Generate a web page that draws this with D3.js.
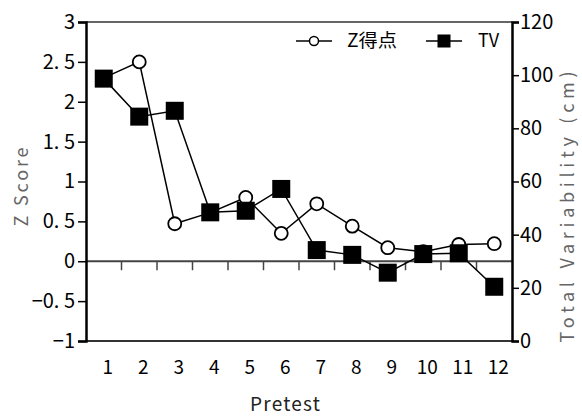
<!DOCTYPE html>
<html>
<head>
<meta charset="utf-8">
<script src="https://cdn.jsdelivr.net/npm/d3@7"></script>
<style>
  body { margin: 0; background: #fff; }
  text { font-family: "Noto Sans CJK JP", "DejaVu Sans", sans-serif; }
</style>
</head>
<body>
<div id="chart"></div>
<script>
// data
const pretests = ['1', '2', '3', '4', '5', '6', '7', '8', '9', '10', '11', '12'];
const zScore = [2.3, 2.5, 0.47, 0.61, 0.8, 0.35, 0.72, 0.44, 0.17, 0.12, 0.21, 0.22];
const tvValues = [98.7, 84.4, 86.6, 48.4, 49, 57.2, 34.2, 32.4, 25.7, 32.7, 33, 20.4];
const zTicks = [-1, -0.5, 0, 0.5, 1, 1.5, 2, 2.5, 3];
const tvTicks = [0, 20, 40, 60, 80, 100, 120];

const W = 582, H = 417;
const plotL = 86, plotR = 512, plotT = 22, plotB = 341;

const svg = d3.select('#chart').append('svg').attr('width', W).attr('height', H);

const x = d3.scaleBand().domain(pretests).range([plotL, plotR]);
const yZ = d3.scaleLinear().domain([-1, 3]).range([plotB, plotT]);
const yTV = d3.scaleLinear().domain([0, 120]).range([plotB, plotT]);
const cx = d => x(d) + x.bandwidth() / 2;

// frame: top and bottom
svg.append('line').attr('x1', plotL).attr('x2', plotR).attr('y1', plotT).attr('y2', plotT)
  .attr('stroke', '#666').attr('stroke-width', 2);
svg.append('line').attr('x1', plotL).attr('x2', plotR).attr('y1', plotB).attr('y2', plotB)
  .attr('stroke', '#333').attr('stroke-width', 2);

// zero line with category ticks
svg.append('line').attr('x1', plotL).attr('x2', plotR).attr('y1', yZ(0)).attr('y2', yZ(0))
  .attr('stroke', '#444').attr('stroke-width', 2);
svg.append('g').selectAll('line').data(pretests.slice(1)).join('line')
  .attr('x1', d => x(d)).attr('x2', d => x(d))
  .attr('y1', yZ(0)).attr('y2', yZ(0) + 9)
  .attr('stroke', '#444').attr('stroke-width', 1.5);

// left axis
const leftAxis = svg.append('g').attr('transform', `translate(${plotL},0)`);
leftAxis.call(d3.axisLeft(yZ).tickValues(d3.range(-1, 3.001, 0.1)).tickSize(4).tickFormat(''));
leftAxis.call(d3.axisLeft(yZ).tickValues(zTicks).tickSize(8).tickPadding(3)
  .tickFormat(d => d3.format('.1~f')(d).replace('-', '\u2212').replace('.', '. ')));
leftAxis.selectAll('path.domain').attr('stroke', '#000').attr('stroke-width', 2.5);
leftAxis.selectAll('line').attr('stroke', '#000').attr('stroke-width', 1.5);
leftAxis.selectAll('text').attr('font-size', 20).attr('fill', '#000')
  .attr('font-family', '"Noto Sans CJK JP", sans-serif');

// right axis
const rightAxis = svg.append('g').attr('transform', `translate(${plotR},0)`);
rightAxis.call(d3.axisRight(yTV).tickValues(d3.range(0, 120.1, 5)).tickSize(4).tickFormat(''));
rightAxis.call(d3.axisRight(yTV).tickValues(tvTicks).tickSize(7).tickPadding(1));
rightAxis.selectAll('path.domain').attr('stroke', '#000').attr('stroke-width', 2.5);
rightAxis.selectAll('line').attr('stroke', '#000').attr('stroke-width', 1.5);
rightAxis.selectAll('text').attr('font-size', 20).attr('fill', '#000')
  .attr('font-family', '"Noto Sans CJK JP", sans-serif');

// category labels
svg.append('g').selectAll('text').data(pretests).join('text')
  .attr('x', d => cx(d) + 4).attr('y', 367).attr('dy', '0.35em')
  .attr('text-anchor', 'middle').attr('font-size', 19).text(d => d);

// axis titles
svg.append('text').attr('x', 285).attr('y', 404).attr('dy', '0.35em')
  .attr('text-anchor', 'middle').attr('font-size', 19).attr('fill', '#222')
  .attr('textLength', 70).attr('lengthAdjust', 'spacing').text('Pretest');
svg.append('text').attr('transform', 'translate(22,187) rotate(-90)').attr('dy', '0.35em')
  .attr('text-anchor', 'middle').attr('font-size', 18).attr('fill', '#666')
  .attr('textLength', 79).attr('lengthAdjust', 'spacing').text('Z Score');
svg.append('text').attr('transform', 'translate(568,207) rotate(-90)').attr('dy', '0.35em')
  .attr('text-anchor', 'middle').attr('font-size', 18).attr('fill', '#666')
  .attr('textLength', 271).attr('lengthAdjust', 'spacing').text('Total Variability (cm)');

// Z score series
const zLine = d3.line().x((d, i) => cx(pretests[i])).y(d => yZ(d));
svg.append('path').datum(zScore).attr('d', zLine)
  .attr('fill', 'none').attr('stroke', '#000').attr('stroke-width', 1.5);
svg.append('g').selectAll('circle').data(zScore).join('circle')
  .attr('cx', (d, i) => cx(pretests[i])).attr('cy', d => yZ(d)).attr('r', 6.5)
  .attr('fill', '#fff').attr('stroke', '#000').attr('stroke-width', 1.8);

// TV series
const tvLine = d3.line().x((d, i) => cx(pretests[i])).y(d => yTV(d));
svg.append('path').datum(tvValues).attr('d', tvLine)
  .attr('fill', 'none').attr('stroke', '#000').attr('stroke-width', 1.5);
const sq = 18;
svg.append('g').selectAll('rect').data(tvValues).join('rect')
  .attr('x', (d, i) => cx(pretests[i]) - sq / 2).attr('y', d => yTV(d) - sq / 2)
  .attr('width', sq).attr('height', sq).attr('fill', '#000');

// legend
const legend = svg.append('g');
legend.append('line').attr('x1', 296).attr('x2', 332).attr('y1', 41).attr('y2', 41)
  .attr('stroke', '#000').attr('stroke-width', 1.5);
legend.append('circle').attr('cx', 314).attr('cy', 41).attr('r', 4.5)
  .attr('fill', '#fff').attr('stroke', '#000').attr('stroke-width', 1.5);
legend.append('text').attr('x', 347).attr('y', 41).attr('dy', '0.35em')
  .attr('font-size', 18).attr('textLength', 50).attr('lengthAdjust', 'spacingAndGlyphs').text('Z得点');
legend.append('line').attr('x1', 426).attr('x2', 462).attr('y1', 41).attr('y2', 41)
  .attr('stroke', '#000').attr('stroke-width', 1.5);
legend.append('rect').attr('x', 437.5).attr('y', 34.5).attr('width', 13).attr('height', 13).attr('fill', '#000');
legend.append('text').attr('x', 478).attr('y', 41).attr('dy', '0.35em')
  .attr('font-size', 18).text('TV');
</script>
</body>
</html>
